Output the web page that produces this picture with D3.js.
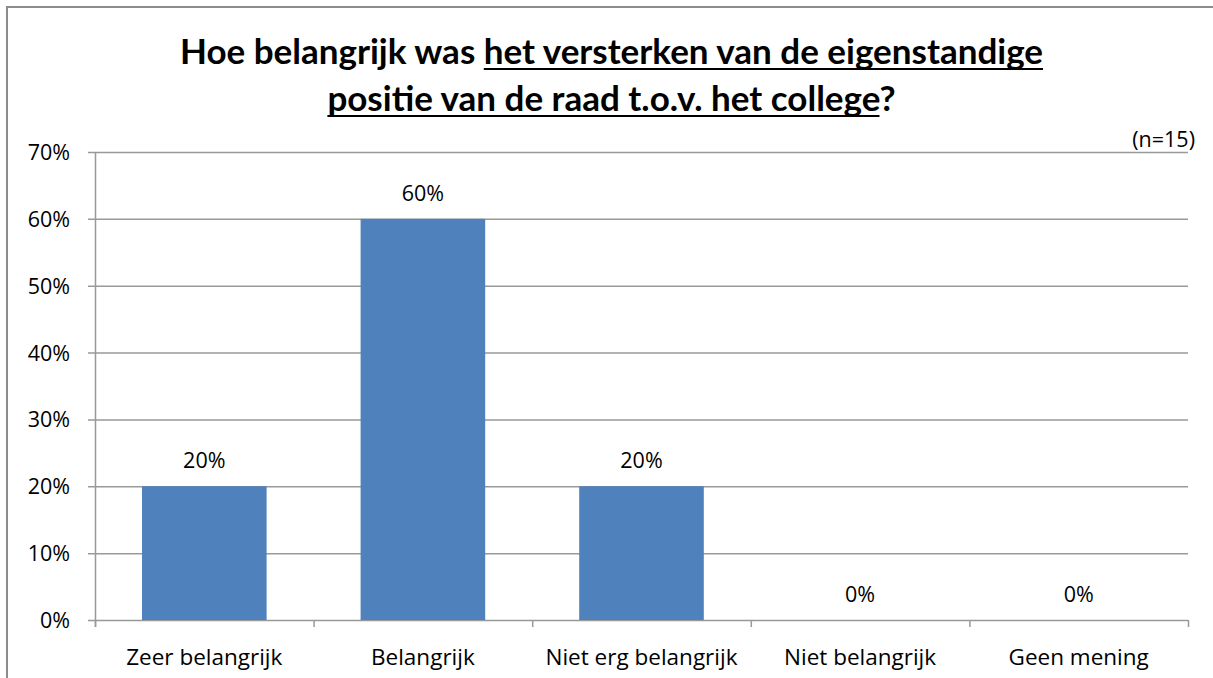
<!DOCTYPE html>
<html lang="nl">
 <head>
 <meta charset="UTF-8">
        <title>Hoe belangrijk</title>
        <script src="https://cdn.jsdelivr.net/npm/d3@7/dist/d3.min.js"></script>
        <style>
          body { margin: 0; background: #fff; }
          text { font-family: "Open Sans", Lato, sans-serif; fill: #000; }
        </style>
 </head>

 <body>
        <script>

          // data
          var categories = ["Zeer belangrijk", "Belangrijk", "Niet erg belangrijk", "Niet belangrijk", "Geen mening"];
          var shares = [0.20, 0.60, 0.20, 0, 0];
          var yTicks = [0, 0.1, 0.2, 0.3, 0.4, 0.5, 0.6, 0.7];

          var W = 1213, H = 678;
          var plotL = 95, plotR = 1188, plotT = 152, plotB = 620;

          var svg = d3.select("body").append("svg")
                      .attr("width", W)
                      .attr("height", H);

          // chart frame
          svg.append("rect")
             .attr("x", 7).attr("y", 7)
             .attr("width", W + 20).attr("height", H + 20)
             .attr("fill", "none")
             .attr("stroke", "#8c8c8c")
             .attr("stroke-width", 2);

          var x = d3.scaleBand().domain(categories).range([plotL, plotR]).paddingInner(0.43).paddingOuter(0.215);
          var xTick = d3.scaleLinear().domain([0, categories.length]).range([plotL, plotR]);
          var y = d3.scaleLinear().domain([0, 0.7]).range([plotB, plotT]);
          var fmt = d3.format(".0%");

          // gridlines + y labels
          svg.append("g").selectAll("line")
             .data(yTicks).enter().append("line")
             .attr("x1", plotL - 7).attr("x2", plotR)
             .attr("y1", (d) => y(d) + 0.5).attr("y2", (d) => y(d) + 0.5)
             .attr("stroke", "#999").attr("stroke-width", 1.5);

          svg.append("g").selectAll("text")
             .data(yTicks).enter().append("text")
             .attr("x", 70).attr("y", (d) => y(d) + 8)
             .attr("text-anchor", "end")
             .attr("font-size", 21.5)
             .text(fmt);

          // bars
          svg.append("g").selectAll("rect")
             .data(shares).enter().append("rect")
             .attr("x", (d, i) => x(categories[i]))
             .attr("width", x.bandwidth())
             .attr("y", (d) => y(d))
             .attr("height", (d) => plotB - y(d))
             .attr("fill", "#4f81bd");

          // value labels
          svg.append("g").selectAll("text")
             .data(shares).enter().append("text")
             .attr("x", (d, i) => x(categories[i]) + x.bandwidth() / 2)
             .attr("y", (d) => y(d) - 18)
             .attr("text-anchor", "middle")
             .attr("font-size", 21.5)
             .text(fmt);

          // axis lines
          svg.append("line")
             .attr("x1", plotL + 0.5).attr("x2", plotL + 0.5)
             .attr("y1", plotT).attr("y2", plotB + 7)
             .attr("stroke", "#999").attr("stroke-width", 1.5);

          svg.append("g").selectAll("line")
             .data(d3.range(categories.length + 1)).enter().append("line")
             .attr("x1", (d) => xTick(d) + 0.5).attr("x2", (d) => xTick(d) + 0.5)
             .attr("y1", plotB).attr("y2", plotB + 7)
             .attr("stroke", "#999").attr("stroke-width", 1.5);

          svg.append("g").selectAll("text")
             .data(categories).enter().append("text")
             .attr("x", (d) => x(d) + x.bandwidth() / 2)
             .attr("y", 665)
             .attr("text-anchor", "middle")
             .attr("font-size", 22.5)
             .text((d) => d);

          // title with underlined parts
          var titleLines = [
            [["Hoe belangrijk was ", false], ["het versterken van de eigenstandige", true]],
            [["positie van de raad t.o.v. het college", true], ["?", false]]
          ];
          var titleY = [64, 111];
          var cx = W / 2 + 5;

          titleLines.forEach(function(parts, li) {
            var t = svg.append("text")
                       .attr("x", cx).attr("y", titleY[li])
                       .attr("text-anchor", "middle")
                       .style("font-family", "Lato, sans-serif")
                       .attr("font-size", 35)
                       .attr("font-weight", "bold");
            parts.forEach(function(p) {
              t.append("tspan").text(p[0]);
            });
            var spans = t.selectAll("tspan").nodes();
            var total = t.node().getComputedTextLength();
            var acc = cx - total / 2;
            spans.forEach(function(s, si) {
              var w = s.getComputedTextLength();
              if (parts[si][1]) {
                svg.append("line")
                   .attr("x1", acc).attr("x2", acc + w)
                   .attr("y1", titleY[li] + 5).attr("y2", titleY[li] + 5)
                   .attr("stroke", "#000").attr("stroke-width", 2);
              }
              acc += w;
            });
          });

          svg.append("text")
             .attr("x", 1195).attr("y", 147)
             .attr("text-anchor", "end")
             .attr("font-size", 21.5)
             .text("(n=15)");

        </script>
    </body>
</html>
